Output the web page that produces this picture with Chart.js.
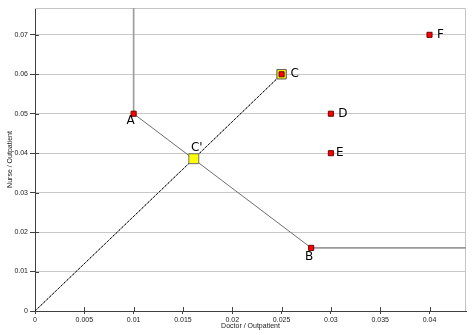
<!DOCTYPE html>
<html>
<head>
<meta charset="utf-8">
<script src="https://cdn.jsdelivr.net/npm/chart.js@4.4.1/dist/chart.umd.min.js"></script>
<style>
  html, body { margin: 0; padding: 0; background: #fff; }
  #wrap { width: 474px; height: 335px; }
</style>
</head>
<body>
<div id="wrap"><canvas id="dea-chart"></canvas></div>
<script>
// Axis extents and tick values
const X_MAX = 0.0437;
const Y_MAX = 0.0768;
const xTicks = [0, 0.005, 0.01, 0.015, 0.02, 0.025, 0.03, 0.035, 0.04];
const xTickLabels = ['0', '0.005', '0.01', '0.015', '0.02', '0.025', '0.03', '0.035', '0.04'];
const yTicks = [0, 0.01, 0.02, 0.03, 0.04, 0.05, 0.06, 0.07];
const yTickLabels = ['0', '0.01', '0.02', '0.03', '0.04', '0.05', '0.06', '0.07'];

// Hospitals: doctor / outpatient vs nurse / outpatient
const unitNames = ['A', 'B', 'C', 'D', 'E', 'F'];
const doctorRatio = [0.01, 0.028, 0.025, 0.03, 0.03, 0.04];
const nurseRatio = [0.05, 0.016, 0.06, 0.05, 0.04, 0.07];

// Projection of C onto the frontier
const projName = "C'";
const projX = 0.0161;
const projY = 0.0386;

// Efficient frontier: up from A, A to B, then right from B
const frontierX = [0.01, 0.01, 0.028, X_MAX];
const frontierY = [Y_MAX, 0.05, 0.016, 0.016];

// Ray from the origin through C' to C
const rayX = [0, projX, 0.025];
const rayY = [0, projY, 0.06];

const zip = (xs, ys) => xs.map((x, i) => ({ x: x, y: ys[i] }));

// label offsets (px) relative to each marker
const labelOffsets = {
  A: [-3, 7], B: [-2, 9], C: [13, 0], D: [12, 0], E: [9, 0], F: [11, 0], "C'": [3, -11]
};

const tickFont = { family: 'Liberation Sans', size: 7 };

const frameAndTicks = {
  id: 'frameAndTicks',
  beforeDatasetsDraw(chart) {
    const { ctx, chartArea: a, scales: { x, y } } = chart;
    ctx.save();
    ctx.lineWidth = 1;
    ctx.strokeStyle = '#c4c4c4';
    ctx.beginPath();
    ctx.moveTo(a.left, a.top + 0.5);
    ctx.lineTo(a.right - 0.5, a.top + 0.5);
    ctx.lineTo(a.right - 0.5, a.bottom);
    ctx.stroke();
    // inner halves of the tick marks
    ctx.strokeStyle = '#404040';
    ctx.beginPath();
    y.ticks.forEach(t => {
      const py = Math.round(y.getPixelForValue(t.value)) + 0.5;
      ctx.moveTo(a.left, py);
      ctx.lineTo(a.left + 4, py);
    });
    x.ticks.forEach(t => {
      const px = Math.round(x.getPixelForValue(t.value)) + 0.5;
      ctx.moveTo(px, a.bottom);
      ctx.lineTo(px, a.bottom - 4);
    });
    ctx.stroke();
    ctx.restore();
  }
};

const pointLabels = {
  id: 'pointLabels',
  afterDatasetsDraw(chart) {
    const { ctx } = chart;
    const xs = chart.scales.x, ys = chart.scales.y;
    ctx.save();
    ctx.font = '12px "DejaVu Sans"';
    ctx.fillStyle = '#000';
    ctx.textAlign = 'center';
    ctx.textBaseline = 'middle';
    const put = (name, vx, vy) => {
      const off = labelOffsets[name];
      ctx.fillText(name, xs.getPixelForValue(vx) + off[0], ys.getPixelForValue(vy) + off[1]);
    };
    unitNames.forEach((n, i) => put(n, doctorRatio[i], nurseRatio[i]));
    put(projName, projX, projY);
    ctx.restore();
  }
};

const ctx = document.getElementById('dea-chart').getContext('2d');
new Chart(ctx, {
  type: 'scatter',
  data: {
    datasets: [
      {
        label: 'units',
        data: zip(doctorRatio, nurseRatio),
        pointStyle: 'rect',
        pointRadius: 3.6,
        backgroundColor: '#ff0000',
        borderColor: '#700000',
        borderWidth: 1,
        order: 0
      },
      {
        label: 'C highlight',
        data: zip([doctorRatio[2]], [nurseRatio[2]]),
        pointStyle: 'rect',
        pointRadius: 6.6,
        backgroundColor: '#ffff00',
        borderColor: '#505050',
        borderWidth: 1,
        order: 1
      },
      {
        label: projName,
        data: zip([projX], [projY]),
        pointStyle: 'rect',
        pointRadius: 7,
        backgroundColor: '#ffff00',
        borderColor: '#707070',
        borderWidth: 1,
        order: 1
      },
      {
        label: 'ray dots',
        data: zip(rayX, rayY),
        showLine: true,
        pointRadius: 0,
        borderColor: '#000000',
        borderWidth: 1,
        borderDash: [2, 2],
        order: 2
      },
      {
        label: 'ray',
        data: zip(rayX, rayY),
        showLine: true,
        pointRadius: 0,
        borderColor: '#8c8c8c',
        borderWidth: 1,
        order: 3
      },
      {
        label: 'frontier',
        data: zip(frontierX, frontierY),
        showLine: true,
        pointRadius: 0,
        borderColor: '#a0a0a0',
        borderWidth: 1.6,
        segment: {
          borderColor: c => c.p0DataIndex === 1 ? '#6e6e6e' : '#9a9a9a',
          borderWidth: c => c.p0DataIndex === 1 ? 1 : 1.6
        },
        order: 3
      }
    ]
  },
  options: {
    responsive: true,
    maintainAspectRatio: false,
    animation: false,
    layout: { padding: { top: 7, right: 7, left: 0, bottom: 0 } },
    plugins: {
      legend: { display: false },
      tooltip: { enabled: false }
    },
    scales: {
      x: {
        type: 'linear',
        min: 0,
        max: X_MAX,
        afterFit: s => { s.height = 24; },
        afterBuildTicks: s => { s.ticks = xTicks.map(v => ({ value: v })); },
        border: { color: '#404040', width: 1 },
        grid: { drawOnChartArea: false, drawTicks: true, tickLength: 3, tickColor: '#404040' },
        ticks: {
          color: '#222',
          font: tickFont,
          padding: 2,
          maxRotation: 0,
          autoSkip: false,
          callback: v => xTickLabels[xTicks.indexOf(v)] ?? ''
        },
        title: {
          display: true,
          text: 'Doctor / Outpatient',
          color: '#222',
          font: tickFont,
          padding: { top: 0, bottom: 5 }
        }
      },
      y: {
        type: 'linear',
        min: 0,
        max: Y_MAX,
        afterFit: s => { s.width = 35; },
        afterBuildTicks: s => { s.ticks = yTicks.map(v => ({ value: v })); },
        border: { color: '#404040', width: 1 },
        grid: { color: '#c8c8c8', lineWidth: 1, drawTicks: true, tickLength: 5, tickColor: '#404040' },
        ticks: {
          color: '#222',
          font: tickFont,
          padding: 2,
          autoSkip: false,
          callback: v => yTickLabels[yTicks.indexOf(v)] ?? ''
        },
        title: {
          display: true,
          text: 'Nurse / Outpatient',
          color: '#222',
          font: tickFont,
          padding: { top: 6, bottom: 0 }
        }
      }
    }
  },
  plugins: [frameAndTicks, pointLabels]
});
</script>
</body>
</html>
